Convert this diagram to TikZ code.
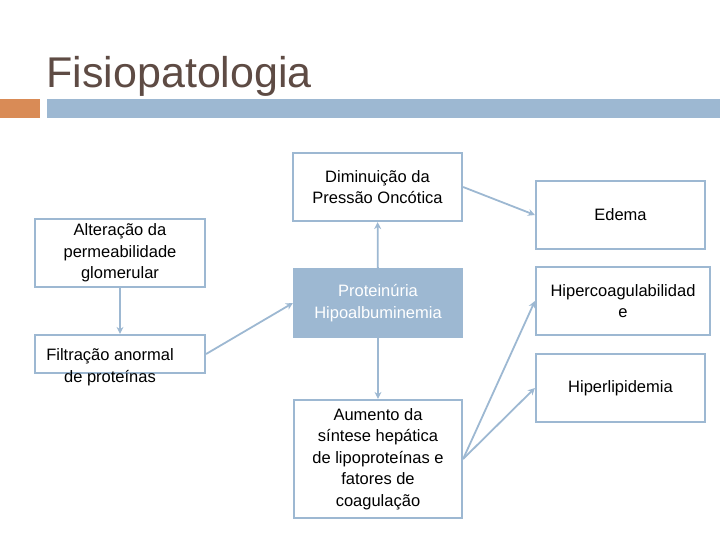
\documentclass[tikz,border=0pt]{standalone}
\usepackage{fontspec}
\setmainfont{Liberation Sans}
\usetikzlibrary{arrows.meta}
\definecolor{bl}{HTML}{9DB8D2}
\definecolor{og}{HTML}{D98B56}
\definecolor{tt}{HTML}{5E4B44}
\begin{document}
\begin{tikzpicture}[x=1pt,y=-1pt,
  bx/.style={draw=bl,line width=2.2pt,align=center,inner sep=0pt,font=\fontsize{16.5}{21.5}\selectfont},
  ar/.style={draw=bl,line width=1.8pt,-{Stealth[length=7pt,width=7pt]}}]
\useasboundingbox (0,0) rectangle (720,540);
\fill[og] (0,99) rectangle (40,118);
\fill[bl] (47,99) rectangle (720,118);
\node[anchor=base west,text=tt,font=\fontsize{43}{46}\selectfont] (title) at (43,88) {Fisiopatologia};
\node[bx,minimum width=169pt,minimum height=68pt] (dim) at (377.5,187) {Diminuição da\\Pressão Oncótica};
\node[bx,minimum width=169pt,minimum height=68pt] (ede) at (620.5,215) {Edema};
\node[bx,fill=bl,text=white,minimum width=168pt,minimum height=68pt] (pro) at (378,303) {Proteinúria\\Hipoalbuminemia};
\node[bx,minimum width=174pt,minimum height=68pt] (hco) at (623,301) {Hipercoagulabilidad\\e};
\node[bx,minimum width=169pt,minimum height=68pt] (hli) at (620.5,388) {Hiperlipidemia};
\node[bx,minimum width=168pt,minimum height=118pt] (aum) at (378,459) {Aumento da\\síntese hepática\\de lipoproteínas e\\fatores de\\coagulação};
\node[bx,minimum width=170pt,minimum height=68pt] (alt) at (120,253) {Alteração da\\permeabilidade\\glomerular};
\node[bx,minimum width=170pt,minimum height=38pt] (fil) at (120,354) {};
\node[bx,draw=none] (filt) at (110,367) {Filtração anormal\\de proteínas};
\draw[ar] (alt) -- (fil.north);
\draw[ar] (fil.east) -- (pro.west);
\draw[ar] (pro) -- (dim);
\draw[ar] (pro) -- (aum);
\draw[ar] (dim.east) -- (ede.west);
\draw[ar] (aum.east) -- (hco.west);
\draw[ar] (aum.east) -- (hli.west);
\end{tikzpicture}
\end{document}
